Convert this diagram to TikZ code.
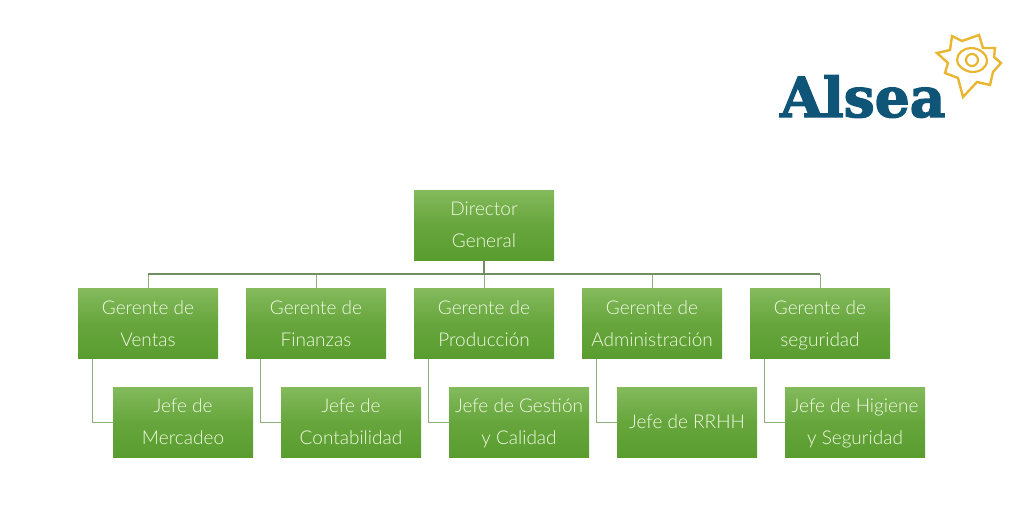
\documentclass[tikz,border=0pt]{standalone}
\usepackage{fontspec}
\setmainfont{Lato}[UprightFont=* Light]
\newfontfamily\logofont[FakeBold=2.5]{DejaVu Serif Bold}
\definecolor{boxtop}{HTML}{84BA5C}
\definecolor{boxbot}{HTML}{5A9D2F}
\definecolor{boxtxt}{HTML}{F0FAE4}
\definecolor{linec}{HTML}{8DB07A}
\definecolor{logoblue}{HTML}{0F5578}
\definecolor{sun}{HTML}{E9B632}
\newcommand{\st}{\rule[-7pt]{0pt}{27pt}}
\tikzset{
  orgbox/.style={rectangle,minimum width=140pt,minimum height=70pt,inner sep=0pt,top color=boxtop,bottom color=boxbot,middle color=boxbot!70!boxtop,text=boxtxt,font=\fontsize{19}{32}\selectfont,align=center},
  conn/.style={draw=linec,line width=1pt},
  trunk/.style={draw=linec!80!black,line width=1.1pt},
}
\begin{document}
\begin{tikzpicture}[x=1pt,y=-1pt]
\useasboundingbox (0,0) rectangle (1009,531);
\node[orgbox] (dir) at (484,225) {\st Director\\\st General};
\node[orgbox] (g1) at (148,323.5) {\st Gerente de\\\st Ventas};
\node[orgbox] (g2) at (316,323.5) {\st Gerente de\\\st Finanzas};
\node[orgbox] (g3) at (484,323.5) {\st Gerente de\\\st Producción};
\node[orgbox] (g4) at (652,323.5) {\st Gerente de\\\st Administración};
\node[orgbox] (g5) at (820,323.5) {\st Gerente de\\\st seguridad};
\node[orgbox] (j1) at (183,422) {\st Jefe de\\\st Mercadeo};
\node[orgbox] (j2) at (351,422) {\st Jefe de\\\st Contabilidad};
\node[orgbox] (j3) at (519,422) {\st Jefe de Gestión\\\st y Calidad};
\node[orgbox] (j4) at (687,422) {\st Jefe de RRHH};
\node[orgbox] (j5) at (855,422) {\st Jefe de Higiene\\\st y Seguridad};
\coordinate (bus) at (484,274);
\foreach \g in {g1,g2,g3,g4,g5}{
  \draw[conn] (bus) -| (\g.north);
}
\draw[trunk] (dir.south) -- (bus);
\draw[trunk] (g1.north |- bus) -- (g5.north |- bus);
\foreach \g/\j in {g1/j1,g2/j2,g3/j3,g4/j4,g5/j5}{
  \coordinate (c\g) at ([xshift=-56pt]\g.south);
  \draw[conn] (c\g) |- (\j.west);
}
\node[anchor=base west,inner sep=0pt,text=logoblue,font=\logofont\fontsize{55}{55}\selectfont] (logo) at (780,117) {Alsea};
\draw[sun,line width=2.4pt,line join=miter] (952,36) -- (962,41) -- (979,35) -- (983,48) -- (995,48) -- (994,57) -- (1001,63) -- (993,72) -- (990,85) -- (977,82) -- (963,97) -- (958,78) -- (945,73) -- (948,63) -- (937,53) -- (950,50) -- cycle;
\draw[sun,line width=2.2pt] (971,48) .. controls (980,48) and (987,55) .. (987,60) .. controls (987,68) and (980,72) .. (972,72) .. controls (963,71) and (957,65) .. (957,60) .. controls (957,53) and (964,48) .. (971,48) -- cycle;
\node[draw=sun,line width=2.2pt,circle,minimum size=12pt,inner sep=0pt] (core) at (972,60) {};
\end{tikzpicture}
\end{document}
